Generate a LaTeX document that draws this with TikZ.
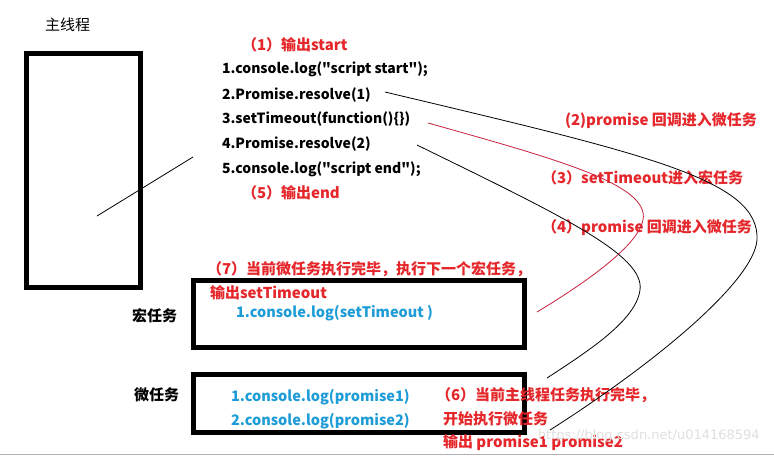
\documentclass[tikz,border=0pt]{standalone}
\usepackage{fontspec}
\setmainfont{Noto Sans CJK SC}[Ligatures=TeXOff]
\newfontfamily\wmfont{DejaVu Sans}
\definecolor{txtred}{RGB}{229,38,42}
\definecolor{txtblue}{RGB}{30,156,215}
\definecolor{linered}{RGB}{200,32,60}
\begin{document}
\begin{tikzpicture}[x=1pt,y=-1pt,
  every node/.style={inner sep=0pt,outer sep=0pt,anchor=west},
  code/.style={font=\fontsize{14}{14}\selectfont\bfseries,text=black},
  note/.style={font=\fontsize{15}{15}\selectfont\bfseries,text=txtred},
  blue/.style={font=\fontsize{14.5}{14.5}\selectfont\bfseries,text=txtblue},
  label/.style={font=\fontsize{15}{15}\selectfont\bfseries,text=black},
  frame/.style={draw=black,line width=5pt},
  thin/.style={draw=black,line width=0.8pt},
  redline/.style={draw=linered,line width=0.8pt}]
\useasboundingbox (0,0) rectangle (774,456);
\fill[white] (0,0) rectangle (774,456);
% frames
\node[frame,anchor=north west,minimum width=114pt,minimum height=234pt] (main) at (26.5,53.5) {};
\node[frame,anchor=north west,minimum width=331pt,minimum height=67pt] (macro) at (193.5,280.5) {};
\node[frame,anchor=north west,minimum width=331pt,minimum height=58pt] (micro) at (193.5,374.5) {};
% title
\node[font=\fontsize{15}{15}\selectfont] (title) at (45,25) {主线程};
% code
\node[note] (s1) at (242,45) {（1）输出start};
\node[code] (c1) at (222,69) {1.console.log("script start");};
\node[code] (c2) at (222,95) {2.Promise.resolve(1)};
\node[code] (c3) at (222,119) {3.setTimeout(function()\{\})};
\node[code] (c4) at (222,144) {4.Promise.resolve(2)};
\node[code] (c5) at (222,169) {5.console.log("script end");};
\node[note] (s5) at (242,193) {（5）输出end};
% notes right
\node[note] (n2) at (565,121) {(2)promise 回调进入微任务};
\node[note] (n3) at (542,178) {（3）setTimeout进入宏任务};
\node[note] (n4) at (542,228) {（4）promise 回调进入微任务};
\node[note] (n7) at (207,269) {（7）当前微任务执行完毕，执行下一个宏任务，};
\node[note] (n7b) at (210,293) {输出setTimeout};
\node[blue] (m1) at (236,313) {1.console.log(setTimeout )};
\node[label] (lmacro) at (132,316) {宏任务};
\node[label] (lmicro) at (134,395) {微任务};
\node[blue] (p1) at (231,397) {1.console.log(promise1)};
\node[blue] (p2) at (231,421) {2.console.log(promise2)};
\node[note] (n6) at (436,395) {（6）当前主线程任务执行完毕，};
\node[note] (n6b) at (443,419) {开始执行微任务};
\node[note] (n6c) at (443,443) {输出 promise1 promise2};
\node[font=\wmfont\fontsize{13}{13}\selectfont,text=black!12] (wm) at (538,436) {https://blog.csdn.net/u014168594};
% connectors
\coordinate (a1) at (97,216);
\coordinate (a2) at (193,157);
\draw[thin] (a1) -- (a2);
\coordinate (b1) at (385,92);
\coordinate (b2) at (550,430);
\draw[thin] (b1) .. controls (650,155) and (760,180) .. (757,240)
               .. controls (754,280) and (660,360) .. (b2);
\coordinate (r1) at (428,123);
\coordinate (r2) at (537,312);
\draw[redline] (r1) .. controls (560,160) and (650,185) .. (643,220)
                    .. controls (638,245) and (590,280) .. (r2);
\coordinate (k1) at (417,145);
\coordinate (k2) at (547,378);
\draw[thin] (k1) .. controls (560,215) and (645,255) .. (640,290)
                 .. controls (636,320) and (590,350) .. (k2);
% bottom edge line
\coordinate (e1) at (0,454.5);
\coordinate (e2) at (774,454.5);
\draw[black!30,line width=1pt] (e1) -- (e2);
\end{tikzpicture}
\end{document}
